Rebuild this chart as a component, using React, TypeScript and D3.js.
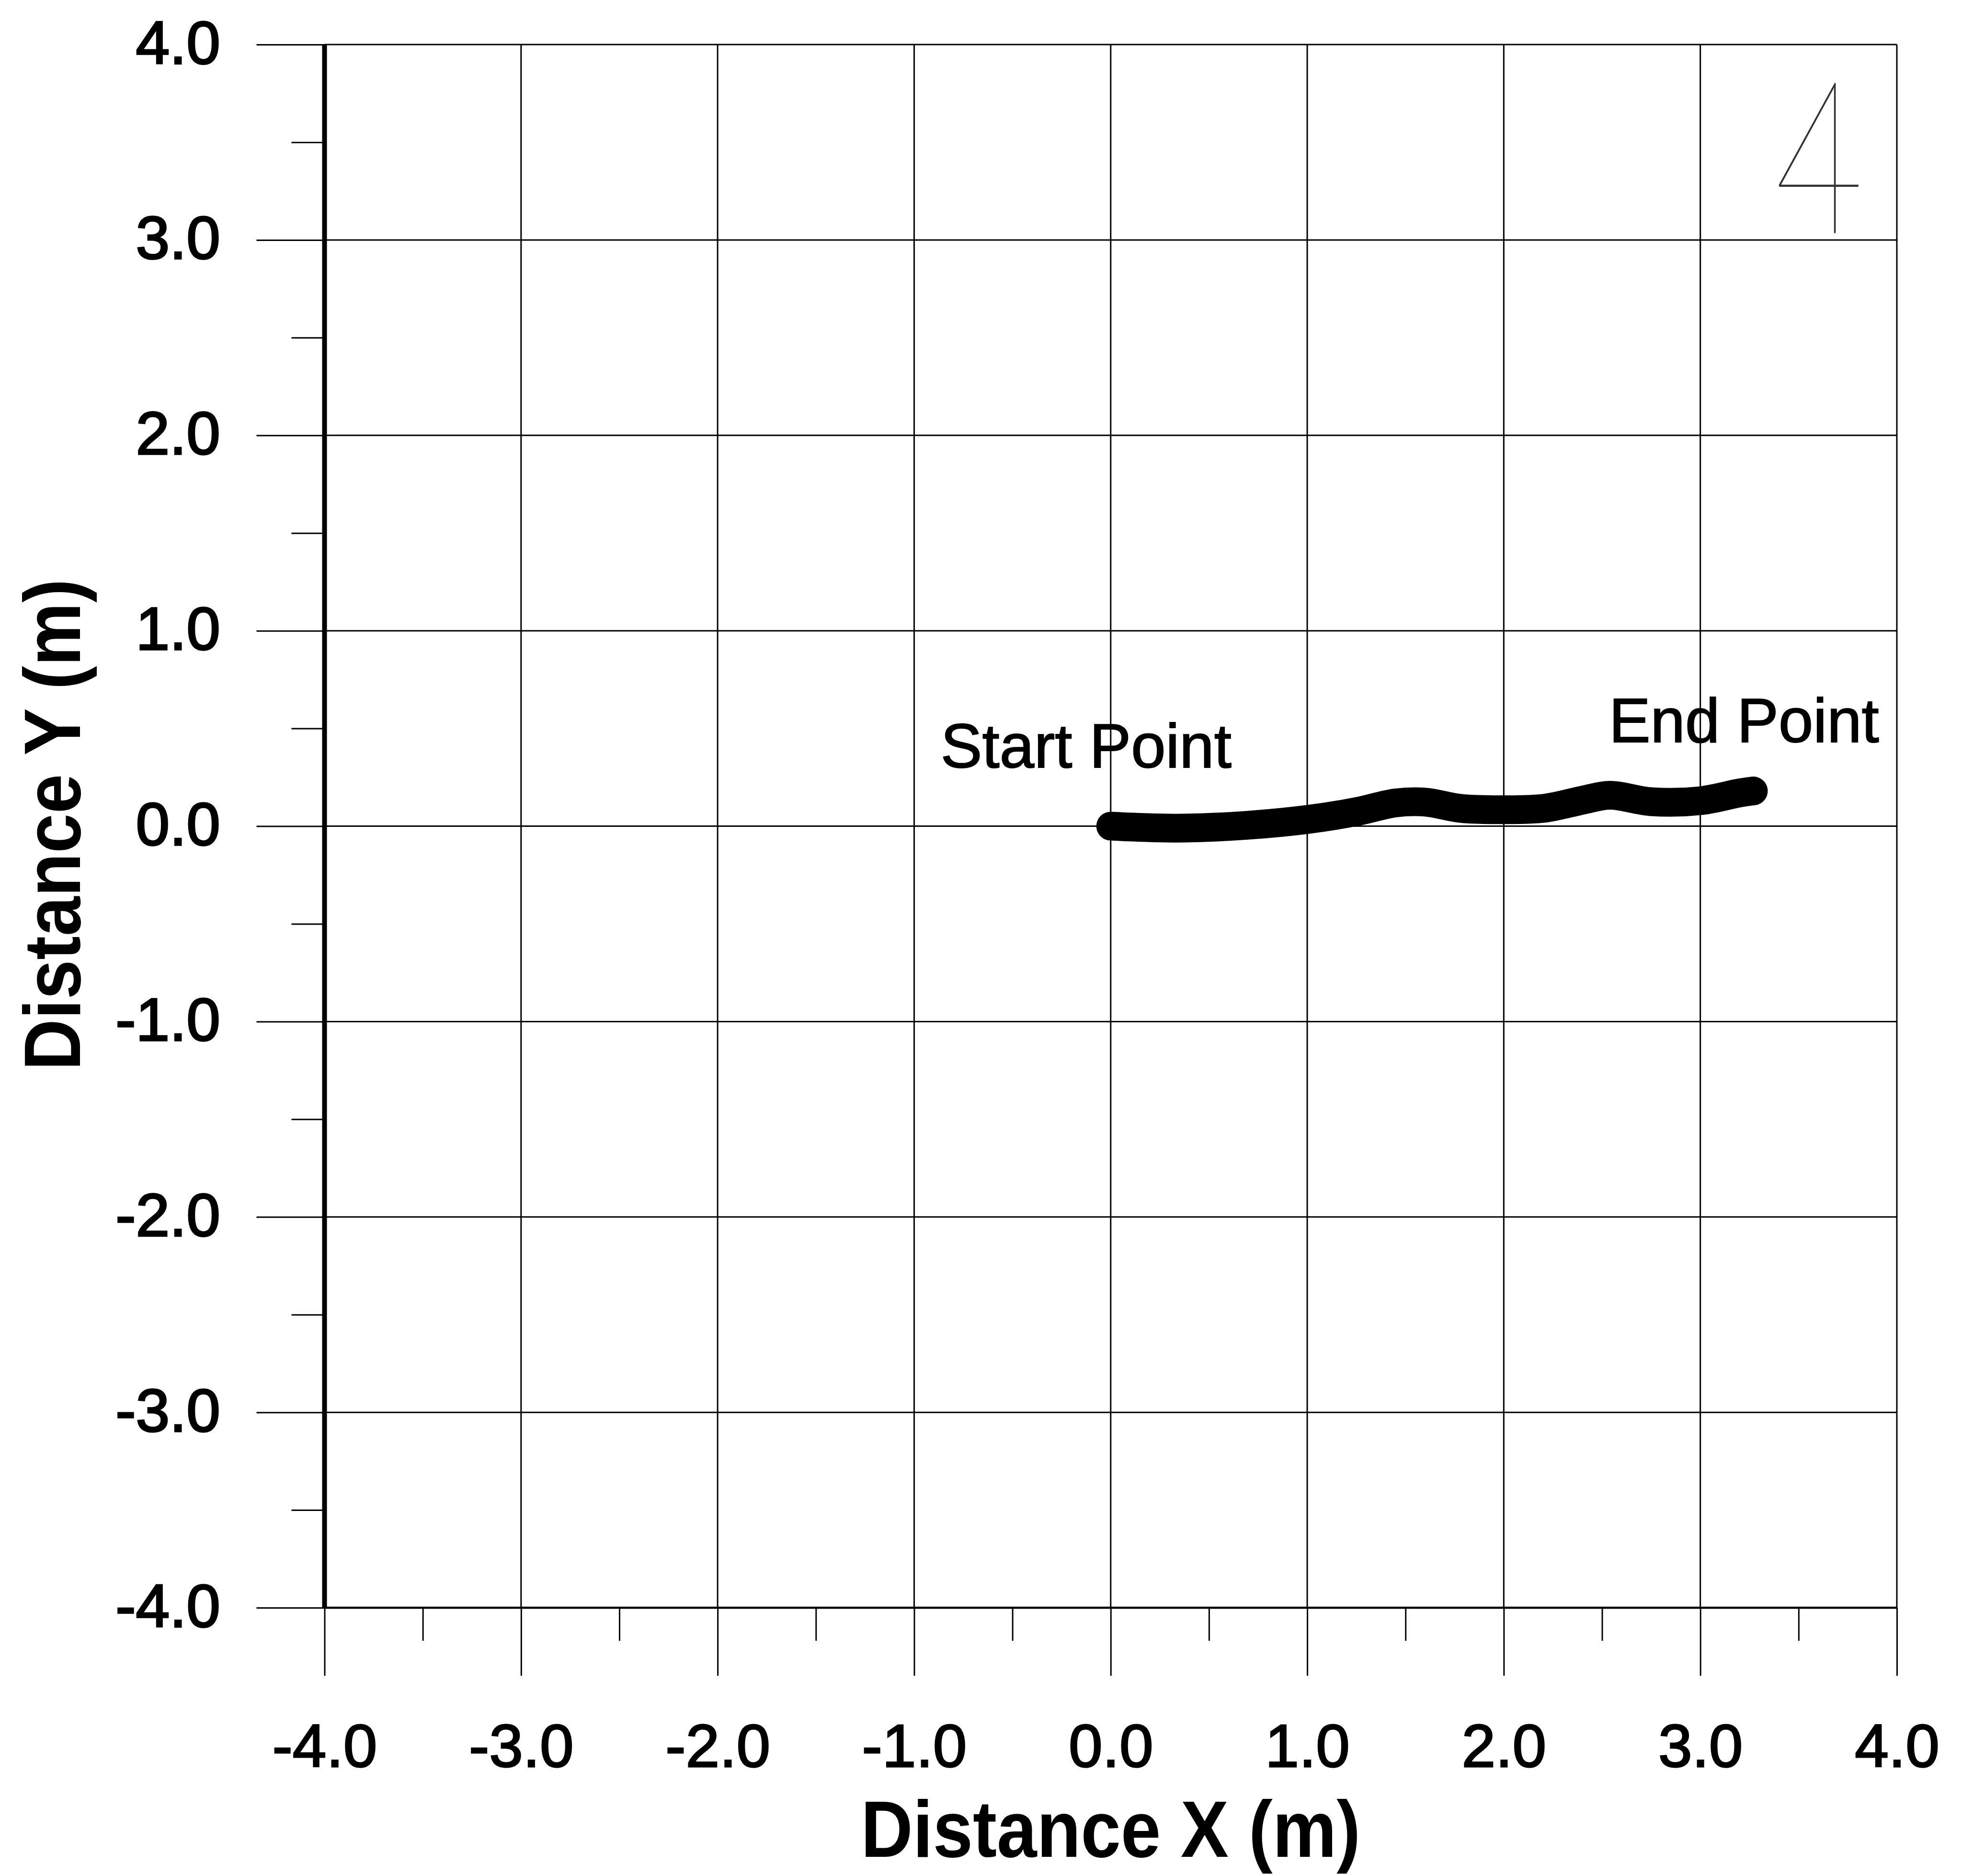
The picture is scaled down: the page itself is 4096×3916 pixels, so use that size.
import React, { useRef, useEffect } from "react";
import * as d3 from "d3";

// axis ticks (m)
const majorTicks = [-4, -3, -2, -1, 0, 1, 2, 3, 4];
const minorTicks = [-3.5, -2.5, -1.5, -0.5, 0.5, 1.5, 2.5, 3.5];

// walked path
const pathX = [0, 0.2, 0.38, 0.69, 1.0, 1.25, 1.45, 1.6, 1.78, 2.0, 2.21, 2.41, 2.54, 2.75, 3.0, 3.2, 3.27];
const pathY = [0, -0.008, -0.01, 0.004, 0.034, 0.074, 0.119, 0.123, 0.091, 0.084, 0.092, 0.135, 0.158, 0.125, 0.13, 0.17, 0.18];

// annotations
const noteText = ["Start Point", "End Point"];
const noteX = [-0.865, 2.535];
const noteY = [0.3, 0.43];
const panelLabel = "4";

const xTitle = "Distance X (m)";
const yTitle = "Distance Y (m)";

const App = () => {
  const svgRef = useRef<SVGSVGElement>(null);
  const width = 4096;
  const height = 3916;

  useEffect(() => {
    const svg = d3.select(svgRef.current);
    svg.selectAll("*").remove();

    const x = d3.scaleLinear().domain([-4, 4]).range([677.5, 3960]);
    const y = d3.scaleLinear().domain([-4, 4]).range([3356, 93]);
    const fmt = (d: number) => d.toFixed(1);
    const font = "'Liberation Sans', Arial, sans-serif";

    svg.append("rect").attr("width", width).attr("height", height).attr("fill", "#fff");

    // grid
    const grid = svg.append("g").attr("stroke", "#000").attr("stroke-width", 3);
    grid.selectAll(".vg")
      .data(majorTicks)
      .enter()
      .append("line")
      .attr("x1", (d) => x(d))
      .attr("x2", (d) => x(d))
      .attr("y1", y(4))
      .attr("y2", y(-4));
    grid.selectAll(".hg")
      .data(majorTicks)
      .enter()
      .append("line")
      .attr("x1", x(-4))
      .attr("x2", x(4))
      .attr("y1", (d) => y(d))
      .attr("y2", (d) => y(d));

    // ticks through d3 axes
    const styleAxis = (g: any) => {
      g.select(".domain").remove();
      g.selectAll(".tick line").attr("stroke", "#000").attr("stroke-width", 3);
    };

    svg.append("g")
      .attr("transform", `translate(0,${y(-4)})`)
      .call(d3.axisBottom(x).tickValues(minorTicks).tickSize(69).tickFormat(() => ""))
      .call(styleAxis);
    const xAx = svg.append("g")
      .attr("transform", `translate(0,${y(-4)})`)
      .call(d3.axisBottom(x).tickValues(majorTicks).tickSize(142).tickFormat(fmt as any))
      .call(styleAxis);
    xAx.selectAll(".tick text")
      .attr("y", 332)
      .attr("dy", 0)
      .attr("font-family", font)
      .attr("font-size", 127)
      .attr("fill", "#000")
      .attr("stroke", "#000")
      .attr("stroke-width", 3);

    svg.append("g")
      .attr("transform", `translate(${x(-4)},0)`)
      .call(d3.axisLeft(y).tickValues(minorTicks).tickSize(69).tickFormat(() => ""))
      .call(styleAxis);
    const yAx = svg.append("g")
      .attr("transform", `translate(${x(-4)},0)`)
      .call(d3.axisLeft(y).tickValues(majorTicks).tickSize(142).tickFormat(fmt as any))
      .call(styleAxis);
    yAx.selectAll(".tick text")
      .attr("x", 460 - x(-4))
      .attr("dy", 0)
      .attr("y", 39)
      .attr("font-family", font)
      .attr("font-size", 127)
      .attr("fill", "#000")
      .attr("stroke", "#000")
      .attr("stroke-width", 3.5);

    // axis lines (left one is heavy)
    svg.append("line")
      .attr("x1", x(-4)).attr("x2", x(4))
      .attr("y1", y(-4)).attr("y2", y(-4))
      .attr("stroke", "#000").attr("stroke-width", 4.5);
    svg.append("line")
      .attr("x1", x(-4)).attr("x2", x(-4))
      .attr("y1", y(4)).attr("y2", y(-4))
      .attr("stroke", "#000").attr("stroke-width", 10);

    // path
    const line = d3.line<number>()
      .x((d, i) => x(pathX[i]))
      .y((d, i) => y(pathY[i]))
      .curve(d3.curveCatmullRom);
    svg.append("path")
      .attr("d", line(pathY))
      .attr("fill", "none")
      .attr("stroke", "#000")
      .attr("stroke-width", 60)
      .attr("stroke-linecap", "round")
      .attr("stroke-linejoin", "round");

    // notes
    svg.selectAll(".note")
      .data(noteText)
      .enter()
      .append("text")
      .attr("x", (d, i) => x(noteX[i]))
      .attr("y", (d, i) => y(noteY[i]))
      .attr("font-family", font)
      .attr("font-size", 130)
      .attr("fill", "#000")
      .attr("stroke", "#000")
      .attr("stroke-width", 2)
      .text((d) => d);

    // panel number, thin and narrow like the scan
    svg.append("text")
      .attr("transform", `translate(${x(3.605)},${y(3.035)}) scale(0.72,1)`)
      .attr("text-anchor", "middle")
      .attr("font-family", "Lato, 'DejaVu Sans', sans-serif")
      .attr("font-weight", 100)
      .attr("font-size", 447)
      .attr("fill", "#333")
      .text(panelLabel);

    // axis titles
    svg.append("text")
      .attr("x", x(0))
      .attr("y", 3876)
      .attr("text-anchor", "middle")
      .attr("font-family", font)
      .attr("font-weight", "bold")
      .attr("font-size", 167)
      .attr("textLength", 1043)
      .attr("lengthAdjust", "spacingAndGlyphs")
      .text(xTitle);

    svg.append("text")
      .attr("transform", `translate(167,${y(0) - 3}) rotate(-90)`)
      .attr("text-anchor", "middle")
      .attr("font-family", font)
      .attr("font-weight", "bold")
      .attr("font-size", 167)
      .attr("textLength", 1026)
      .attr("lengthAdjust", "spacingAndGlyphs")
      .text(yTitle);
  }, []);

  return (
    <svg
      ref={svgRef}
      width={width}
      height={height}
      style={{ position: "absolute", left: 0, top: 0, display: "block" }}
    ></svg>
  );
};

export default App;
